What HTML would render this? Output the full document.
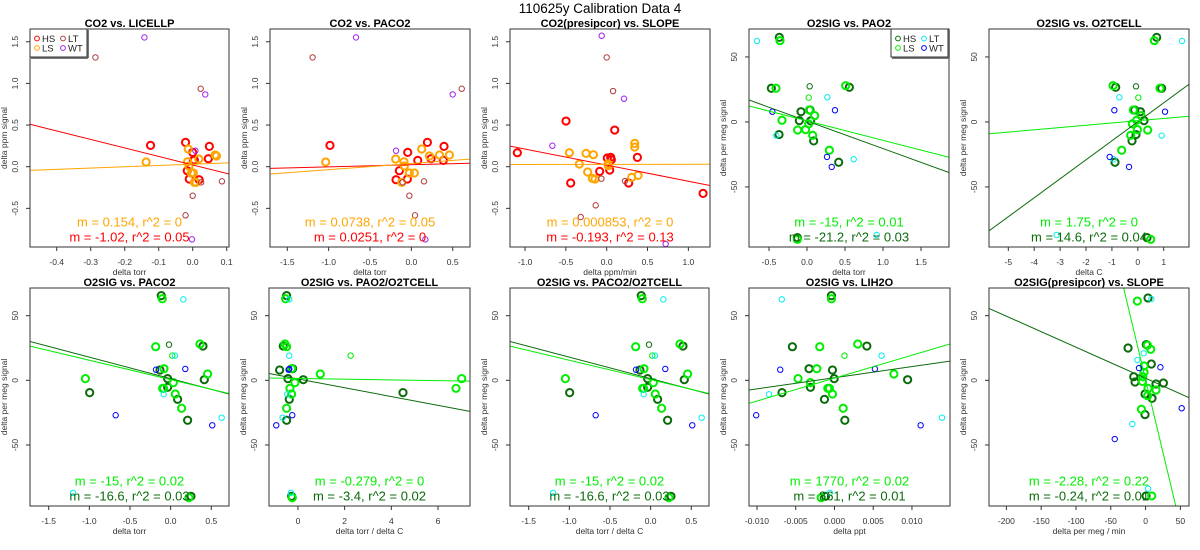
<!DOCTYPE html>
<html><head><meta charset="utf-8"><title>110625y Calibration Data 4</title>
<style>
html,body{margin:0;padding:0;background:#fff;}
svg{display:block;font-family:"Liberation Sans",Arial,sans-serif;}
</style></head>
<body>
<svg id="chart" width="1200" height="550" viewBox="0 0 1200 550" xmlns="http://www.w3.org/2000/svg">
<rect x="0" y="0" width="1200" height="550" fill="#fff"/>
<text x="600" y="13" text-anchor="middle" font-size="13.5">110625y   Calibration Data 4</text>
</svg>
<script>
// ---- data: per panel, per group, [x, y] pairs ----
const p1_HS = [[-0.124,0.256],[-0.021,0.292],[0.049,0.244],[0.046,0.096],[0.0,0.172],[0.002,0.076],[0.005,0.08],[-0.016,-0.048],[-0.010,-0.148],[0.019,-0.156]];
const p1_LS = [[-0.137,0.056],[-0.013,0.212],[0.066,0.14],[0.07,0.128],[0.018,0.092],[-0.015,0.06],[-0.011,0.008],[0.002,-0.076],[-0.004,-0.076],[0.005,-0.188],[0.010,-0.188]];
const p1_LT = [[-0.286,1.312],[0.0235,0.936],[0.086,-0.176],[0.025,-0.188],[0.0,-0.348],[-0.021,-0.584]];
const p1_WT = [[-0.142,1.552],[0.037,0.868],[0.008,0.192],[-0.002,-0.872]];

const p2_HS = [[-0.984,0.256],[0.194,0.292],[0.395,0.244],[0.238,0.096],[-0.044,0.172],[0.077,0.076],[0.387,0.076],[-0.145,-0.048],[-0.048,-0.148],[-0.185,-0.156]];
const p2_LS = [[-1.036,0.056],[0.125,0.212],[0.46,0.14],[0.218,0.128],[-0.19,0.092],[-0.089,0.06],[-0.085,0.008],[0.036,-0.076],[-0.024,-0.076],[-0.117,-0.188],[0.34,0.14]];
const p2_LT = [[-1.194,1.312],[0.609,0.936],[0.153,-0.176],[-0.105,-0.188],[-0.024,-0.348],[0.044,-0.584]];
const p2_WT = [[-0.669,1.552],[0.5,0.868],[-0.185,0.192],[0.169,-0.872]];

const p3_HS = [[-1.094,0.168],[-0.498,0.548],[0.098,0.44],[-0.441,-0.196],[0.008,0.104],[0.049,0.112],[0.057,0.084],[-0.086,-0.056],[0.037,-0.04],[0.269,-0.196],[0.376,0.112],[1.18,-0.32]];
const p3_LS = [[-0.457,0.168],[-0.253,0.16],[-0.163,0.144],[-0.335,0.032],[-0.233,-0.064],[-0.176,-0.14],[-0.143,-0.148],[0.016,0.032],[0.02,0.012],[0.343,0.28],[0.343,0.236],[0.306,-0.128],[0.384,-0.104]];
const p3_LT = [[0.0,1.312],[0.078,0.908],[-0.065,-0.144],[0.224,-0.172],[-0.135,-0.464],[-0.318,-0.604]];
const p3_WT = [[-0.061,1.572],[0.212,0.816],[-0.665,0.252],[0.722,-0.928]];

const p4_HS = [[-0.364,65.1],[-0.469,25.9],[0.557,26.7],[-0.079,7.9],[0.04,9.2],[-0.101,1.0],[0.048,0.8],[-0.368,-9.7],[0.088,-14.6],[0.417,-31],[-0.127,-89]];
const p4_LS = [[-0.355,62.6],[-0.408,25.9],[0.509,27.9],[0.031,9.2],[0.101,4.9],[-0.329,1.3],[0.022,-1.5],[-0.123,-6.2],[-0.018,-5.9],[0.075,-10.3],[0.294,-21.8],[-0.127,-90.3]];
const p4_HSt = [[0.035,27.4]];
const p4_LSt = [[0.022,18.7]];
const p4_LT = [[-0.658,62.3],[0.268,19],[-0.404,-10.5],[0.614,-28.7],[0.917,-86.9]];
const p4_WT = [[-0.456,7.9],[0.368,9],[0.263,-26.9],[0.325,-34.6]];

const p5_HS = [[0.729,65.1],[-0.854,26.7],[0.922,25.9],[-0.12,9.2],[0.099,7.9],[0.24,1.0],[-0.069,-9.7],[-0.223,-14.6],[-0.88,-31],[0.356,-89]];
const p5_LS = [[0.639,62.6],[-0.957,27.9],[0.858,25.9],[-0.172,9.2],[0.124,4.9],[-0.043,1.3],[-0.211,-1.5],[-0.017,-5.9],[0.382,-6.2],[-0.275,-10.3],[-0.622,-21.8],[0.498,-90.3]];
const p5_HSt = [[-0.069,27.4]];
const p5_LSt = [[0.021,18.7]];
const p5_LT = [[1.708,62.3],[-0.713,19],[0.922,-10.5],[-0.932,-28.7],[-3.133,-86.9]];
const p5_WT = [[-0.906,9],[1.051,7.9],[-1.086,-26.9],[-0.339,-34.6]];

const p6_HS = [[-0.115,65.5],[0.398,26.5],[-0.131,8],[-0.037,1.3],[0.414,0.5],[-0.037,-5.4],[-0.996,-9.5],[0.086,-14.7],[0.209,-30.9],[0.25,-89.7]];
const p6_LS = [[-0.103,63.1],[-0.184,26],[0.361,28.1],[-0.082,9],[0.455,4.9],[-1.049,1.3],[0.033,-1.8],[-0.098,-6.2],[-0.086,-6.2],[0.057,-10.6],[0.135,-21.6],[0.225,-90.7]];
const p6_HSt = [[-0.02,27.6]];
const p6_LSt = [[0.02,19.1]];
const p6_LT = [[0.156,62.6],[0.053,19.1],[-0.086,-10.8],[0.627,-28.9],[-1.2,-87]];
const p6_WT = [[-0.18,8.2],[0.18,8.8],[-0.676,-27],[0.512,-34.8]];

const p7_HS = [[-0.486,65.5],[-0.629,26.5],[-0.786,8],[-0.229,9],[-0.429,1.3],[0.229,0.5],[4.5,-9.5],[-0.371,-14.7],[-0.486,-30.9],[-0.271,-89.7]];
const p7_LS = [[-0.529,63.1],[-0.557,28.1],[-0.486,26],[-0.271,9],[0.957,4.9],[7.014,1.3],[-0.129,-1.8],[-0.343,-6.2],[6.771,-6.2],[-0.271,-10.6],[-0.486,-21.6],[-0.243,-90.7]];
const p7_HSt = [];
const p7_LSt = [[2.257,19.1]];
const p7_LT = [[-0.371,62.6],[-0.371,19.1],[-0.457,-10.8],[-0.657,-28.9],[-0.3,-87]];
const p7_WT = [[-0.4,8.2],[-0.371,8.8],[-0.243,-27],[-0.929,-34.8]];

const p8_HS = [[-0.115,65.5],[0.398,26.5],[-0.131,8],[-0.037,1.3],[0.414,0.5],[-0.037,-5.4],[-0.996,-9.5],[0.086,-14.7],[0.209,-30.9],[0.25,-89.7]];
const p8_LS = [[-0.103,63.1],[-0.184,26],[0.361,28.1],[-0.082,9],[0.455,4.9],[-1.049,1.3],[0.033,-1.8],[-0.098,-6.2],[-0.086,-6.2],[0.057,-10.6],[0.135,-21.6],[0.225,-90.7]];
const p8_HSt = [[-0.02,27.6]];
const p8_LSt = [[0.02,19.1]];
const p8_LT = [[0.156,62.6],[0.053,19.1],[-0.086,-10.8],[0.627,-28.9],[-1.2,-87]];
const p8_WT = [[-0.18,8.2],[0.18,8.8],[-0.676,-27],[0.512,-34.8]];

const p9_HS = [[-0.00039,65.5],[0.00418,26.5],[-0.00543,26],[-0.00328,9],[-0.00026,8],[-0.00004,1.3],[0.00944,0.5],[-0.0031,-5.4],[-0.00677,-9.5],[-0.00129,-14.7],[0.00134,-30.9],[-0.00116,-89.7]];
const p9_LS = [[-0.00039,63.1],[0.003,28.1],[-0.0019,26],[-0.00228,9],[0.00767,4.9],[-0.0047,1.3],[-0.0031,-1.8],[-0.00086,-6.2],[-0.00065,-6.2],[-0.00026,-10.6],[0.00112,-21.6],[-0.00172,-90.7]];
const p9_HSt = [];
const p9_LSt = [[0.00129,19.1]];
const p9_LT = [[-0.0068,62.6],[0.00608,19.1],[-0.00845,-10.8],[0.01388,-28.9],[-0.0006,-87]];
const p9_WT = [[-0.007,8.2],[0.00522,8.8],[-0.0101,-27],[0.01112,-34.8]];

const p10_HS = [[3.5,63.7],[1.1,27.6],[-25.2,25],[8.3,12.6],[-17,2.8],[-15.1,-1.3],[15,-2.8],[25.6,-2.1],[-0.8,-10.6],[9.3,-13.9],[-0.8,-26.5],[0.7,-89.4]];
const p10_LS = [[-11.8,61.3],[2.6,27.1],[7.4,24],[-2.2,11.1],[-2.2,6.2],[-4.1,2.8],[-4.6,-0.8],[3.5,-6.2],[15,-7.5],[3,-11.9],[-6,-22.4],[8.8,-89.4]];
const p10_HSt = [];
const p10_LSt = [];
const p10_LT = [[8.3,62.9],[-2.7,20.9],[-11.8,15.7],[-19,-33.8],[3.5,-83.8]];
const p10_WT = [[-9.4,9.5],[21.3,10.1],[51.9,-21.6],[-44.3,-45.4]];

// regression lines: [intercept, slope] for LS (first) and HS (second)
const lineLS = [[0.03,0.154],[0.038,0.0738],[0.028,0.000853],[0.85,-15],[0.94,1.75],[0.55,-15],[1.45,-0.279],[0.55,-15],[1.7,1770],[0.45,-2.25]];
const lineHS = [[0.021,-1.02],[0.023,0.0251],[0.019,-0.193],[0.7,-21.2],[0.1,14.6],[1.3,-16.6],[1.06,-3.4],[1.3,-16.6],[2.0,861],[1.6,-0.24]];
const statLS = ["m = 0.154, r^2 = 0","m = 0.0738, r^2 = 0.05","m = 0.000853, r^2 = 0","m = -15, r^2 = 0.01","m = 1.75, r^2 = 0","m = -15, r^2 = 0.02","m = -0.279, r^2 = 0","m = -15, r^2 = 0.02","m = 1770, r^2 = 0.02","m = -2.28, r^2 = 0.22"];
const statHS = ["m = -1.02, r^2 = 0.05","m = 0.0251, r^2 = 0","m = -0.193, r^2 = 0.13","m = -21.2, r^2 = 0.03","m = 14.6, r^2 = 0.04","m = -16.6, r^2 = 0.03","m = -3.4, r^2 = 0.02","m = -16.6, r^2 = 0.03","m = 861, r^2 = 0.01","m = -0.24, r^2 = 0.01"];
const titles = ["CO2 vs. LICELLP","CO2 vs. PACO2","CO2(presipcor) vs. SLOPE","O2SIG vs. PAO2","O2SIG vs. O2TCELL","O2SIG vs. PACO2","O2SIG vs. PAO2/O2TCELL","O2SIG vs. PACO2/O2TCELL","O2SIG vs. LIH2O","O2SIG(presipcor) vs. SLOPE"];
const xLabels = ["delta torr","delta torr","delta ppm/min","delta torr","delta C","delta torr","delta torr / delta C","delta torr / delta C","delta ppt","delta per meg / min"];
const xTicks = [[-0.4,-0.3,-0.2,-0.1,0.0,0.1],[-1.5,-1.0,-0.5,0.0,0.5],[-1.0,-0.5,0.0,0.5,1.0],[-0.5,0.0,0.5,1.0,1.5],[-5,-4,-3,-2,-1,0,1],[-1.5,-1.0,-0.5,0.0,0.5],[0,2,4,6],[-1.5,-1.0,-0.5,0.0,0.5],[-0.010,-0.005,0.000,0.005,0.010],[-200,-150,-100,-50,0,50]];
const xTickLabels = [["-0.4","-0.3","-0.2","-0.1","0.0","0.1"],["-1.5","-1.0","-0.5","0.0","0.5"],["-1.0","-0.5","0.0","0.5","1.0"],["-0.5","0.0","0.5","1.0","1.5"],["-5","-4","-3","-2","-1","0","1"],["-1.5","-1.0","-0.5","0.0","0.5"],["0","2","4","6"],["-1.5","-1.0","-0.5","0.0","0.5"],["-0.010","-0.005","0.000","0.005","0.010"],["-200","-150","-100","-50","0","50"]];
const yTicksCO2 = [-0.5,0.0,0.5,1.0,1.5];
const yTickLabelsCO2 = ["-0.5","0.0","0.5","1.0","1.5"];
const yTicksO2 = [-50,0,50];
const yTickLabelsO2 = ["-50","0","50"];
const legendLabels = ["HS","LS","LT","WT"];

// ---- layout (not data) ----
const panels = [
 {l:30,t:29,r:229,b:247,xl:[-0.4785,0.1068],yl:[-0.964,1.653],co2:true,pts:[p1_HS,p1_LS,[],[],p1_LT,p1_WT],legend:true},
 {l:270,t:29,r:470,b:247,xl:[-1.709,0.709],yl:[-0.964,1.653],co2:true,pts:[p2_HS,p2_LS,[],[],p2_LT,p2_WT]},
 {l:510,t:29,r:710,b:247,xl:[-1.184,1.265],yl:[-0.964,1.653],co2:true,pts:[p3_HS,p3_LS,[],[],p3_LT,p3_WT]},
 {l:749,t:29,r:949,b:247,xl:[-0.763,1.868],yl:[-96.2,71.5],co2:false,pts:[p4_HS,p4_LS,p4_HSt,p4_LSt,p4_LT,p4_WT],legend:true},
 {l:989,t:29,r:1189,b:247,xl:[-5.746,1.977],yl:[-96.2,71.5],co2:false,pts:[p5_HS,p5_LS,p5_HSt,p5_LSt,p5_LT,p5_WT]},
 {l:30,t:288,r:229,b:506,xl:[-1.73,0.718],yl:[-97.2,71.4],co2:false,pts:[p6_HS,p6_LS,p6_HSt,p6_LSt,p6_LT,p6_WT]},
 {l:269,t:288,r:470,b:506,xl:[-1.24,7.37],yl:[-97.2,71.4],co2:false,pts:[p7_HS,p7_LS,p7_HSt,p7_LSt,p7_LT,p7_WT]},
 {l:510,t:288,r:709,b:506,xl:[-1.73,0.718],yl:[-97.2,71.4],co2:false,pts:[p8_HS,p8_LS,p8_HSt,p8_LSt,p8_LT,p8_WT]},
 {l:749,t:288,r:950,b:506,xl:[-0.01103,0.01491],yl:[-97.2,71.4],co2:false,pts:[p9_HS,p9_LS,p9_HSt,p9_LSt,p9_LT,p9_WT]},
 {l:989,t:288,r:1189,b:506,xl:[-225,62.4],yl:[-97.2,71.4],co2:false,pts:[p10_HS,p10_LS,p10_HSt,p10_LSt,p10_LT,p10_WT]}
];
const colCO2 = ["#ff0000","#ffa500","#ff0000","#ffa500","#b03a3a","#a020f0"];
const colO2 = ["#0b6b0b","#00ee00","#0b6b0b","#00ee00","#00eeee","#0000ff"];
const groupNames = ["hs","ls","hs","ls","lt","wt"];

const NS = "http://www.w3.org/2000/svg";
const svg = document.getElementById("chart");
function mk(tag, name, parent, attrs) {
  const el = document.createElementNS(NS, tag);
  
  
  for (const k in attrs) el.setAttribute(k, attrs[k]);
  parent.appendChild(el);
  return el;
}

panels.forEach(function(P, i) {
  const g = mk("g", "panel-" + (i + 1), svg, {});
  const sx = v => P.l + (v - P.xl[0]) / (P.xl[1] - P.xl[0]) * (P.r - P.l);
  const sy = v => P.b - (v - P.yl[0]) / (P.yl[1] - P.yl[0]) * (P.b - P.t);
  const cols = P.co2 ? colCO2 : colO2;
  const clipId = "clip" + i;
  const cp = mk("clipPath", "clip-region", g, {id: clipId});
  mk("rect", "clip-rect", cp, {x: P.l, y: P.t, width: P.r - P.l, height: P.b - P.t});

  const tt = mk("text", "panel-title", g, {x: (P.l + P.r) / 2, y: P.t - 2, "text-anchor": "middle", "font-size": 11, "font-weight": "bold"});
  tt.textContent = titles[i];

  xTicks[i].forEach(function(v, k) {
    const x = sx(v);
    mk("line", "x-tick", g, {x1: x, x2: x, y1: P.b, y2: P.b + 4, stroke: "#333", "stroke-width": 1});
    const t = mk("text", "x-tick-label", g, {x: x, y: P.b + 18, "text-anchor": "middle", "font-size": 8.5, fill: "#333"});
    t.textContent = xTickLabels[i][k];
  });
  const xl = mk("text", "x-axis-title", g, {x: (P.l + P.r) / 2, y: P.b + 28, "text-anchor": "middle", "font-size": 8.5, fill: "#333"});
  xl.textContent = xLabels[i];

  const yT = P.co2 ? yTicksCO2 : yTicksO2;
  const yTL = P.co2 ? yTickLabelsCO2 : yTickLabelsO2;
  yT.forEach(function(v, k) {
    const y = sy(v);
    mk("line", "y-tick", g, {x1: P.l - 4, x2: P.l, y1: y, y2: y, stroke: "#333", "stroke-width": 1});
    const t = mk("text", "y-tick-label", g, {x: P.l - 12, y: y, "text-anchor": "middle", "font-size": 8.5, fill: "#333", transform: "rotate(-90 " + (P.l - 12) + " " + y + ")"});
    t.textContent = yTL[k];
  });
  const yx = P.l - 23, yy = (P.t + P.b) / 2;
  const yl = mk("text", "y-axis-title", g, {x: yx, y: yy, "text-anchor": "middle", "font-size": 8.5, fill: "#333", transform: "rotate(-90 " + yx + " " + yy + ")"});
  yl.textContent = P.co2 ? "delta ppm signal" : "delta per meg signal";

  const pg = mk("g", "data-points", g, {"clip-path": "url(#" + clipId + ")"});
  P.pts.forEach(function(arr, gi) {
    const thick = gi < 2;
    arr.forEach(function(p) {
      mk("circle", "point-" + groupNames[gi], pg, {cx: sx(p[0]), cy: sy(p[1]), r: thick ? 3.6 : 2.7, fill: "none", stroke: cols[gi], "stroke-width": thick ? 2 : 1});
    });
  });

  const lg = mk("g", "regression-lines", g, {"clip-path": "url(#" + clipId + ")"});
  [[lineHS[i], cols[0], "fit-line-hs"], [lineLS[i], cols[1], "fit-line-ls"]].forEach(function(L) {
    const a = L[0][0], b = L[0][1];
    mk("line", L[2], lg, {x1: sx(P.xl[0]), y1: sy(a + b * P.xl[0]), x2: sx(P.xl[1]), y2: sy(a + b * P.xl[1]), stroke: L[1], "stroke-width": 1});
  });

  const s1 = mk("text", "stat-ls", g, {x: (P.l + P.r) / 2, y: P.b - 20.5, "text-anchor": "middle", "font-size": 13, fill: cols[1]});
  s1.textContent = statLS[i];
  const s2 = mk("text", "stat-hs", g, {x: (P.l + P.r) / 2, y: P.b - 5.5, "text-anchor": "middle", "font-size": 13, fill: cols[0]});
  s2.textContent = statHS[i];

  mk("rect", "plot-frame", g, {x: P.l, y: P.t, width: P.r - P.l, height: P.b - P.t, fill: "none", stroke: "#333", "stroke-width": 1});

  if (P.legend) {
    const lx = P.co2 ? P.l : P.r - 58, ly = P.t;
    const leg = mk("g", "legend", g, {});
    mk("line", "legend-shadow", leg, {x1: lx + 1, y1: ly + 29, x2: lx + 58, y2: ly + 29, stroke: "#777", "stroke-width": 2});
    mk("line", "legend-shadow", leg, {x1: lx + 58, y1: ly + 1, x2: lx + 58, y2: ly + 29, stroke: "#777", "stroke-width": 2});
    mk("rect", "legend-box", leg, {x: lx, y: ly, width: 57, height: 28, fill: "#fff", stroke: "#333", "stroke-width": 1});
    const lc = [cols[0], cols[1], cols[4], cols[5]];
    legendLabels.forEach(function(lab, k) {
      const cx = lx + 7 + (k >= 2 ? 26 : 0), cy = ly + 9.5 + (k % 2) * 9.5;
      mk("circle", "legend-marker", leg, {cx: cx, cy: cy, r: 2.4, fill: "none", stroke: lc[k], "stroke-width": 1});
      const t = mk("text", "legend-entry", leg, {x: cx + 5, y: cy + 3.3, "font-size": 9.5, fill: "#222"});
      t.textContent = lab;
    });
  }
});
</script>
</body></html>
